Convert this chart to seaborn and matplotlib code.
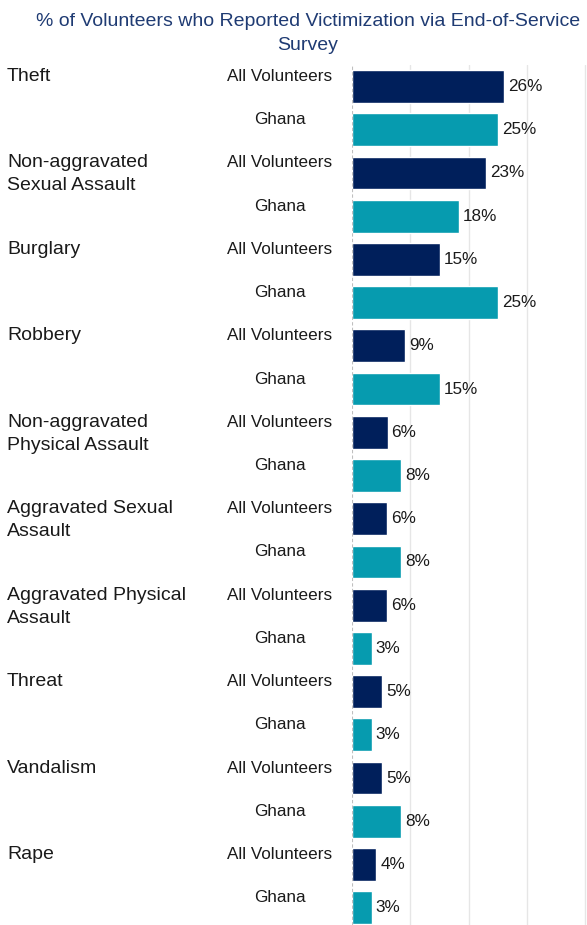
import matplotlib
matplotlib.use("Agg")
import matplotlib.pyplot as plt
import seaborn as sns
import pandas as pd

sns.set_style("white")
plt.rcParams['font.family'] = ['Liberation Sans', 'DejaVu Sans']

categories = ['Theft', 'Non-aggravated\nSexual Assault', 'Burglary', 'Robbery',
              'Non-aggravated\nPhysical Assault', 'Aggravated Sexual\nAssault',
              'Aggravated Physical\nAssault', 'Threat', 'Vandalism', 'Rape']
groups = ['All Volunteers', 'Ghana']
all_vols = [26.1, 23.0, 15.1, 9.1, 6.1, 6.0, 6.0, 5.2, 5.2, 4.2]
ghana = [25.1, 18.3, 25.1, 15.1, 8.4, 8.4, 3.4, 3.4, 8.4, 3.4]
title_lines = ['% of Volunteers who Reported Victimization via End-of-Service', 'Survey']

colors = {'All Volunteers': '#001F5B', 'Ghana': '#069BAF'}

rows = []
for c, a, g in zip(categories, all_vols, ghana):
    rows.append({'row': c + '|' + groups[0], 'cat': c, 'group': groups[0], 'value': a})
    rows.append({'row': c + '|' + groups[1], 'cat': c, 'group': groups[1], 'value': g})
df = pd.DataFrame(rows)

W, H = 587, 925
fig = plt.figure(figsize=(W / 100, H / 100), dpi=100)
ax = fig.add_axes([352 / W, 0, 1 - 352 / W, 1 - 64.9 / H])

sns.barplot(data=df, x='value', y='row', hue='group', palette=colors,
            order=df['row'].tolist(), dodge=False, width=0.76, orient='h',
            ax=ax, legend=False, saturation=1)

ax.set_xlim(0, 40.3)
ax.set_ylim(19.4, -0.5)
ax.set_xticks([10, 20, 30, 40])
ax.grid(axis='x', color='#e6e6e6', linewidth=1)
ax.set_axisbelow(True)
ax.axvline(0, color='#bfbfbf', linestyle=(0, (3, 2)), linewidth=0.8)
ax.tick_params(left=False, bottom=False, labelleft=False, labelbottom=False)
ax.set_xlabel('')
ax.set_ylabel('')
sns.despine(ax=ax, left=True, bottom=True)

row_px = (1 - 64.9 / H) * H / 19.9
base_off = -5.5 / row_px
line_off = 23 / row_px
trans = matplotlib.transforms.blended_transform_factory(fig.transFigure, ax.transData)

for i, r in df.iterrows():
    ax.text(r['value'] + 0.65, i, f"{r['value']:.0f}%", va='center', ha='left',
            fontsize=12.3, color='#1a1a1a')
    ax.text(280 / W, i + base_off, r['group'], transform=trans, ha='center',
            va='baseline', fontsize=12.3, color='#1a1a1a')
    if r['group'] == groups[0]:
        for k, line in enumerate(r['cat'].split('\n')):
            ax.text(7 / W, i + base_off + k * line_off, line, transform=trans,
                    ha='left', va='baseline', fontsize=14, color='#1a1a1a')

for k, line in enumerate(title_lines):
    fig.text(308 / W, 1 - (26.5 + 23 * k) / H, line, ha='center', va='baseline',
             fontsize=14, color='#1F3B73')

fig.savefig('out.png', dpi=100)
